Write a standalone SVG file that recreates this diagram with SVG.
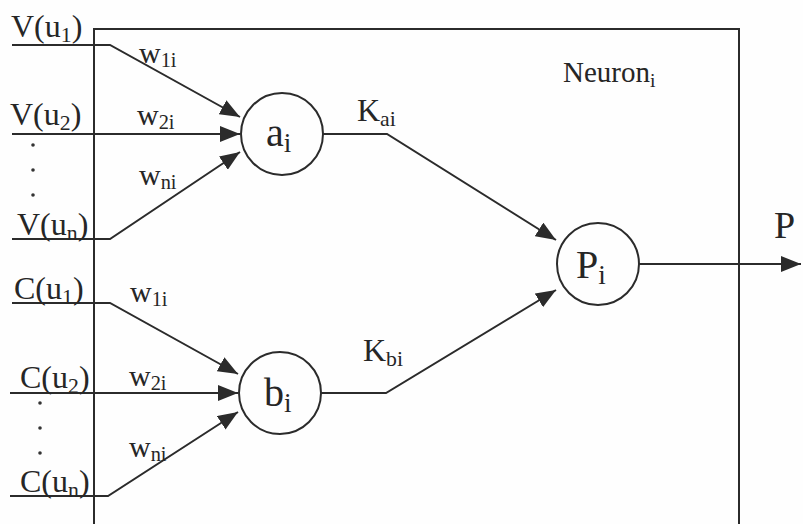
<svg xmlns="http://www.w3.org/2000/svg" width="803" height="524" viewBox="0 0 803 524">
<defs>
<marker id="ah" viewBox="0 0 20 16" refX="20" refY="8" markerWidth="20" markerHeight="16" markerUnits="userSpaceOnUse" orient="auto">
<path d="M0,0 L20,8 L0,16 Z" fill="#2b2b2b"/>
</marker>
<style>
.ln{fill:none;stroke:#2b2b2b;stroke-width:2}
.ar{fill:none;stroke:#2b2b2b;stroke-width:2;marker-end:url(#ah)}
.nd{fill:none;stroke:#2b2b2b;stroke-width:2}
text{font-family:"Liberation Serif","Times New Roman",serif;fill:#262626}
.lb{font-size:32px}
.nl{font-size:29px}
.wl{font-size:30px}
.kl{font-size:32px}
.cl{font-size:40px}
.sb{font-size:0.68em}
.dot{fill:#333}
</style>
</defs>
<rect width="803" height="524" fill="#fefefe"/>
<g id="neuron-box">
<path class="ln" d="M94,530 V29 H739 V530"/>
<text class="nl" x="563" y="82">Neuron<tspan class="sb" dy="5">i</tspan></text>
</g>
<g id="connectors">
<path class="ar" d="M12,45 H110 L240,117"/>
<path class="ar" d="M12,134 H240"/>
<path class="ar" d="M12,239 H110 L240,152"/>
<path class="ar" d="M12,303 H110 L238,374"/>
<path class="ar" d="M10,393 H238"/>
<path class="ar" d="M10,496 H108 L238,412"/>
<path class="ar" d="M323,134 H387 L556,240"/>
<path class="ar" d="M321,393 H386 L556,290"/>
<path class="ar" d="M639,264 H801"/>
</g>
<g id="inputs-v">
<text class="lb" x="11" y="37">V(u<tspan class="sb" dy="5">1</tspan><tspan dy="-5">)</tspan></text>
<text class="lb" x="10" y="125">V(u<tspan class="sb" dy="5">2</tspan><tspan dy="-5">)</tspan></text>
<text class="lb" x="17" y="235">V(u<tspan class="sb" dy="5">n</tspan><tspan dy="-5">)</tspan></text>
<circle class="dot" cx="33" cy="145" r="1.8"/>
<circle class="dot" cx="33" cy="170" r="1.8"/>
<circle class="dot" cx="33" cy="195" r="1.8"/>
</g>
<g id="inputs-c">
<text class="lb" x="14" y="299">C(u<tspan class="sb" dy="5">1</tspan><tspan dy="-5">)</tspan></text>
<text class="lb" x="20" y="388">C(u<tspan class="sb" dy="5">2</tspan><tspan dy="-5">)</tspan></text>
<text class="lb" x="20" y="492">C(u<tspan class="sb" dy="5">n</tspan><tspan dy="-5">)</tspan></text>
<circle class="dot" cx="40" cy="403" r="1.8"/>
<circle class="dot" cx="40" cy="428" r="1.8"/>
<circle class="dot" cx="40" cy="453" r="1.8"/>
</g>
<g id="weights">
<text class="wl" x="139" y="63">w<tspan class="sb" dy="4">1i</tspan></text>
<text class="wl" x="137" y="125">w<tspan class="sb" dy="4">2i</tspan></text>
<text class="wl" x="139" y="185">w<tspan class="sb" dy="4">ni</tspan></text>
<text class="wl" x="130" y="302">w<tspan class="sb" dy="4">1i</tspan></text>
<text class="wl" x="129" y="386">w<tspan class="sb" dy="4">2i</tspan></text>
<text class="wl" x="129" y="457">w<tspan class="sb" dy="4">ni</tspan></text>
<text class="kl" x="357" y="121">K<tspan class="sb" dy="5">ai</tspan></text>
<text class="kl" x="363" y="361">K<tspan class="sb" dy="5">bi</tspan></text>
</g>
<g id="node-a">
<circle class="nd" cx="282" cy="134" r="41"/>
<text class="cl" x="266" y="146">a<tspan class="sb" dy="6">i</tspan></text>
</g>
<g id="node-b">
<circle class="nd" cx="280" cy="393" r="41"/>
<text class="cl" x="264" y="406">b<tspan class="sb" dy="6">i</tspan></text>
</g>
<g id="node-p">
<circle class="nd" cx="598" cy="264" r="41"/>
<text class="cl" x="576" y="278">P<tspan class="sb" dy="6">i</tspan></text>
</g>
<g id="output">
<text style="font-size:38px" x="774" y="238">P</text>
</g>
</svg>
